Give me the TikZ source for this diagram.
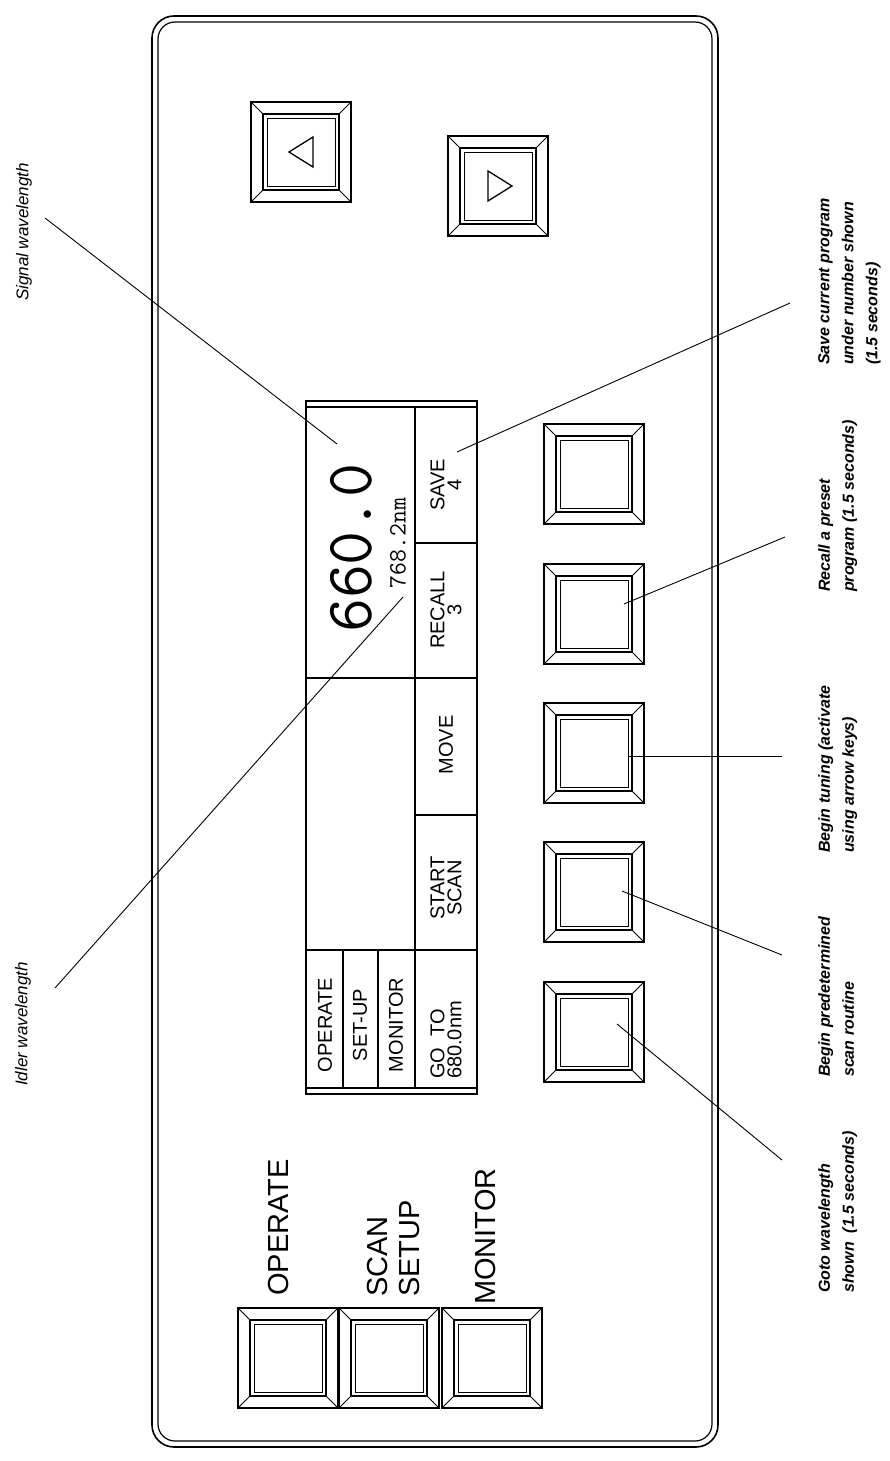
\documentclass[tikz,border=0pt]{standalone}
\usepackage{fontspec}
\usepackage{tikz}
\newfontfamily\legendefont{Liberation Sans}
\tikzset{
Touche/.style={
 draw=black,
 line width=1.4pt,
 minimum size=100pt,
 inner sep=0pt,
 path picture={
  \draw[line width=1.1pt] ([shift={(12pt,-12pt)}]path picture bounding box.north west) rectangle ([shift={(-12pt,12pt)}]path picture bounding box.south east);
  \draw[line width=0.6pt] ([shift={(16pt,-16pt)}]path picture bounding box.north west) rectangle ([shift={(-16pt,16pt)}]path picture bounding box.south east);
  \draw[line width=1pt] (path picture bounding box.north west) -- ++(12pt,-12pt)
   (path picture bounding box.north east) -- ++(-12pt,-12pt)
   (path picture bounding box.south west) -- ++(12pt,12pt)
   (path picture bounding box.south east) -- ++(-12pt,12pt);
  }
 },
Legende/.style={
 rotate=90,
 anchor=north west,
 inner sep=0pt,
 align=left,
 font=\legendefont\bfseries\itshape\fontsize{16}{24}\selectfont
 },
Cellule/.style={
 rotate=90,
 inner sep=0pt,
 align=center,
 font=\legendefont\fontsize{20}{17}\selectfont
 },
Etiquette/.style={
 rotate=90,
 anchor=west,
 inner sep=0pt,
 align=left,
 font=\legendefont\fontsize{29}{32}\selectfont
 },
Renvoi/.style={
 draw=black,
 line width=0.9pt
 }
}
\begin{document}
\begin{tikzpicture}[x=1pt,y=-1pt]
\useasboundingbox (0,0) rectangle (890,1461);
% panel
\draw[line width=1.6pt,rounded corners=22pt] (152,16) rectangle (718,1447);
\draw[line width=1.2pt,rounded corners=17pt] (158,22) rectangle (712,1441);
% display
\draw[line width=1.3pt] (306,401) rectangle (477,1094);
\draw[line width=1.1pt] (306,407) -- (477,407);
\draw[line width=1.1pt] (306,1088) -- (477,1088);
\draw[line width=1.1pt] (415,407) -- (415,1088);
\draw[line width=1.1pt] (306,678) -- (477,678);
\draw[line width=1.1pt] (306,950) -- (477,950);
\draw[line width=1.1pt] (415,543) -- (477,543);
\draw[line width=1.1pt] (415,815) -- (477,815);
\draw[line width=1.1pt] (343,950) -- (343,1088);
\draw[line width=1.1pt] (378,950) -- (378,1088);
\node[rotate=90,inner sep=0pt,font=\ttfamily\fontsize{66}{68}\selectfont] (signal) at (351,548) {660.0};
\node[rotate=90,inner sep=0pt,font=\ttfamily\fontsize{25}{26}\selectfont] (idler) at (398,543) {768.2nm};
\node[Cellule] (csave) at (446,485) {SAVE\\4};
\node[Cellule] (crecall) at (446,610) {RECALL\\3};
\node[Cellule] (cmove) at (446,745) {MOVE};
\node[Cellule] (cscan) at (446,888) {START\\SCAN};
\node[Cellule,align=left] (cgoto) at (446,1040) {GO\ \ TO\\680.0nm};
\node[Cellule] (coperate) at (325,1025) {OPERATE};
\node[Cellule] (csetup) at (360,1025) {SET-UP};
\node[Cellule] (cmonitor) at (396,1025) {MONITOR};
% keys
\node[Touche] (kleft) at (301,152) {};
\node[Touche] (kright) at (498,186) {};
\draw[line width=1.3pt] (289,152) -- (313,137) -- (313,167) -- cycle;
\draw[line width=1.3pt] (512,186) -- (488,171) -- (488,201) -- cycle;
\node[Touche] (ksave) at (594,474) {};
\node[Touche] (krecall) at (594,614) {};
\node[Touche] (kmove) at (594,753) {};
\node[Touche] (kscan) at (594,892) {};
\node[Touche] (kgoto) at (594,1032) {};
\node[Touche] (koperate) at (288,1358) {};
\node[Touche] (ksetup) at (389,1358) {};
\node[Touche] (kmonitor) at (492,1358) {};
\node[Etiquette] (loperate) at (279,1296) {OPERATE};
\node[Etiquette] (lsetup) at (394,1297) {SCAN\\SETUP};
\node[Etiquette] (lmonitor) at (486,1305) {MONITOR};
% notes
\node[rotate=90,inner sep=0pt,font=\legendefont\itshape\fontsize{17}{20}\selectfont] (nsignal) at (24,232) {Signal wavelength};
\node[rotate=90,inner sep=0pt,font=\legendefont\itshape\fontsize{17}{20}\selectfont] (nidler) at (23,1024) {Idler wavelength};
\node[Legende] (nsave) at (818,365) {Save current program\\under number shown\\(1.5 seconds)};
\node[Legende] (nrecall) at (818,592) {Recall a preset\\program (1.5 seconds)};
\node[Legende] (nmove) at (818,853) {Begin tuning (activate\\using arrow keys)};
\node[Legende] (nscan) at (818,1077) {Begin predetermined\\scan routine};
\node[Legende] (ngoto) at (818,1293) {Goto wavelength\\shown\ \ (1.5 seconds)};
% leaders
\coordinate (psignal) at (45,218);
\coordinate (tsignal) at (337,444);
\coordinate (pidler) at (55,988);
\coordinate (tidler) at (403,597);
\coordinate (psave) at (790,303);
\coordinate (tsave) at (457,452);
\coordinate (precall) at (785,537);
\coordinate (trecall) at (624,604);
\coordinate (pmove) at (782,756);
\coordinate (tmove) at (628,756);
\coordinate (pscan) at (782,955);
\coordinate (tscan) at (622,891);
\coordinate (pgoto) at (782,1160);
\coordinate (tgoto) at (617,1024);
\draw[Renvoi] (psignal) -- (tsignal);
\draw[Renvoi] (pidler) -- (tidler);
\draw[Renvoi] (psave) -- (tsave);
\draw[Renvoi] (precall) -- (trecall);
\draw[Renvoi] (pmove) -- (tmove);
\draw[Renvoi] (pscan) -- (tscan);
\draw[Renvoi] (pgoto) -- (tgoto);
\end{tikzpicture}
\end{document}
